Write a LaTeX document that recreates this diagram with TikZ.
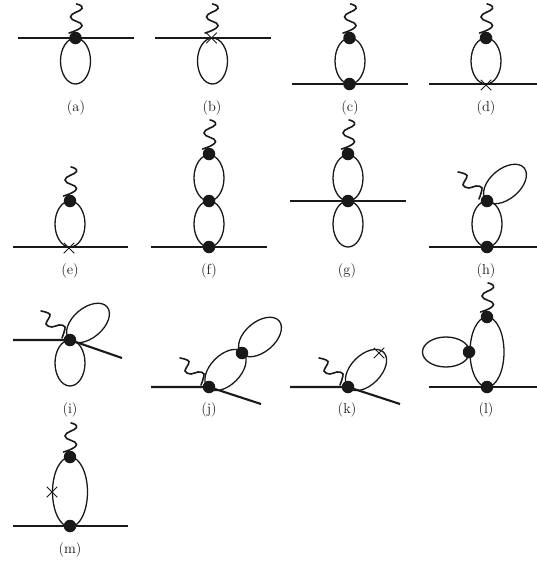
\documentclass[tikz,border=0pt]{standalone}
\usepackage{fontspec}
\usetikzlibrary{shapes.geometric,shapes.misc}
\tikzset{
  vtx/.style={circle,fill=black!90,inner sep=0pt,outer sep=0pt,minimum size=12.5pt},
  xmark/.style={cross out,draw=black!90,line width=1pt,inner sep=0pt,outer sep=0pt,minimum size=10.5pt},
  ext/.style={draw=black!90,line width=2.1pt},
  wav/.style={draw=black!90,line width=1.6pt,line cap=round},
  lp/.style={ellipse,draw=black!90,line width=1.3pt,inner sep=0pt,outer sep=0pt,fill=none},
  lab/.style={font=\fontsize{14.5}{15}\selectfont,inner sep=0pt,text=black!90}
}
\newcommand{\wup}[1]{\draw[wav,shift={(#1)}] plot[smooth,tension=0.9] coordinates {(-6.5,-5) (6.5,-12.5) (-5,-21) (6.5,-29.5) (1,-34)};}
\newcommand{\wside}[1]{\draw[wav,shift={(#1)}] plot[smooth,tension=0.6] coordinates {(-8,-2) (-5,-13) (-11,-15) (-18,-13) (-24,-16) (-20,-25.5) (-29,-29)};}
\newcommand{\lo}[5]{\node[lp,minimum width=#3pt,minimum height=#4pt,rotate=#5] (#1) at (#2) {};}
\begin{document}
\begin{tikzpicture}[x=1pt,y=-1pt]
\useasboundingbox (0,0) rectangle (537,562);
% a
\coordinate (aL) at (18,38); \coordinate (aR) at (134,38);
\lo{aO}{75.5,61}{30}{46}{0}
\draw[ext] (aL) -- (aR);
\node[vtx] (a1) at (75.5,38) {};
\wup{a1}
\node[lab] (la) at (76,108) {(a)};
% b
\coordinate (bL) at (155,38); \coordinate (bR) at (271,38);
\lo{bO}{212.5,61}{30}{46}{0}
\draw[ext] (bL) -- (bR);
\node[xmark] (b1) at (211.5,38) {};
\wup{b1}
\node[lab] (lb) at (212,108) {(b)};
% c
\coordinate (cL) at (292,84); \coordinate (cR) at (408,84);
\lo{cO}{350,61}{30}{46}{0}
\draw[ext] (cL) -- (cR);
\node[vtx] (c1) at (349.5,38) {};
\node[vtx] (c2) at (349.5,84) {};
\wup{c1}
\node[lab] (lc) at (350,108) {(c)};
% d
\coordinate (dL) at (429,84); \coordinate (dR) at (537,84);
\lo{dO}{486,61}{30}{46}{0}
\draw[ext] (dL) -- (dR);
\node[vtx] (d1) at (486,38) {};
\node[xmark] (d2) at (486,85) {};
\wup{d1}
\node[lab] (ld) at (486,108) {(d)};
% e
\coordinate (eL) at (13,247); \coordinate (eR) at (128,247);
\lo{eO}{70,224}{30}{46}{0}
\draw[ext] (eL) -- (eR);
\node[vtx] (e1) at (70,201) {};
\node[xmark] (e2) at (69,248) {};
\wup{e1}
\node[lab] (le) at (70,271) {(e)};
% f
\coordinate (fL) at (151,247); \coordinate (fR) at (267,247);
\lo{fO}{209,178}{30}{46}{0}
\lo{fP}{209,224}{30}{46}{0}
\draw[ext] (fL) -- (fR);
\node[vtx] (f1) at (209,154) {};
\node[vtx] (f2) at (209,201) {};
\node[vtx] (f3) at (209,247) {};
\wup{f1}
\node[lab] (lf) at (209,271) {(f)};
% g
\coordinate (gL) at (290,201); \coordinate (gR) at (406,201);
\lo{gO}{348,178}{30}{46}{0}
\lo{gP}{348,224}{30}{46}{0}
\draw[ext] (gL) -- (gR);
\node[vtx] (g1) at (348,154) {};
\node[vtx] (g2) at (348,201) {};
\wup{g1}
\node[lab] (lg) at (347,271) {(g)};
% h
\coordinate (hL) at (429,247); \coordinate (hR) at (537,247);
\lo{hO}{487,224}{30}{46}{0}
\lo{hP}{505,184}{50}{30}{40}
\draw[ext] (hL) -- (hR);
\node[vtx] (h1) at (487,201) {};
\node[vtx] (h2) at (487,247) {};
\wside{h1}
\node[lab] (lh) at (486,271) {(h)};
% i
\coordinate (iL) at (13,340); \coordinate (iR) at (122,358);
\lo{iO}{70,363}{30}{46}{0}
\lo{iP}{88,323}{50}{30}{40}
\node[vtx] (i1) at (70,340) {};
\draw[ext] (iL) -- (i1) -- (iR);
\wside{i1}
\node[lab] (li) at (70,410) {(i)};
% j
\coordinate (jL) at (151,387); \coordinate (jR) at (261,404);
\lo{jO}{225.5,370}{50}{30}{45}
\lo{jP}{260,337}{50}{30}{40}
\node[vtx] (j1) at (209,387) {};
\node[vtx] (j2) at (242,353) {};
\draw[ext] (jL) -- (j1) -- (jR);
\wside{j1}
\node[lab] (lj) at (209,410) {(j)};
% k
\coordinate (kL) at (290,387); \coordinate (kR) at (400,404);
\lo{kO}{366,370}{50}{30}{45}
\node[vtx] (k1) at (348,387) {};
\draw[ext] (kL) -- (k1) -- (kR);
\node[xmark] (k2) at (379,353) {};
\wside{k1}
\node[lab] (lk) at (347,410) {(k)};
% l
\coordinate (lL) at (429,387); \coordinate (lR) at (537,387);
\lo{lO}{487,352}{34}{70}{0}
\lo{lP}{446,352}{47}{30}{0}
\draw[ext] (lL) -- (lR);
\node[vtx] (l1) at (487,317) {};
\node[vtx] (l2) at (487,387) {};
\node[vtx] (l3) at (469,352) {};
\wup{l1}
\node[lab] (ll) at (486,410) {(l)};
% m
\coordinate (mL) at (13,526); \coordinate (mR) at (128,526);
\lo{mO}{70,492}{35}{70}{0}
\draw[ext] (mL) -- (mR);
\node[vtx] (m1) at (70,457) {};
\node[vtx] (m2) at (70,526) {};
\node[xmark] (m3) at (52,492) {};
\wup{m1}
\node[lab] (lm) at (70,550) {(m)};
\end{tikzpicture}
\end{document}
